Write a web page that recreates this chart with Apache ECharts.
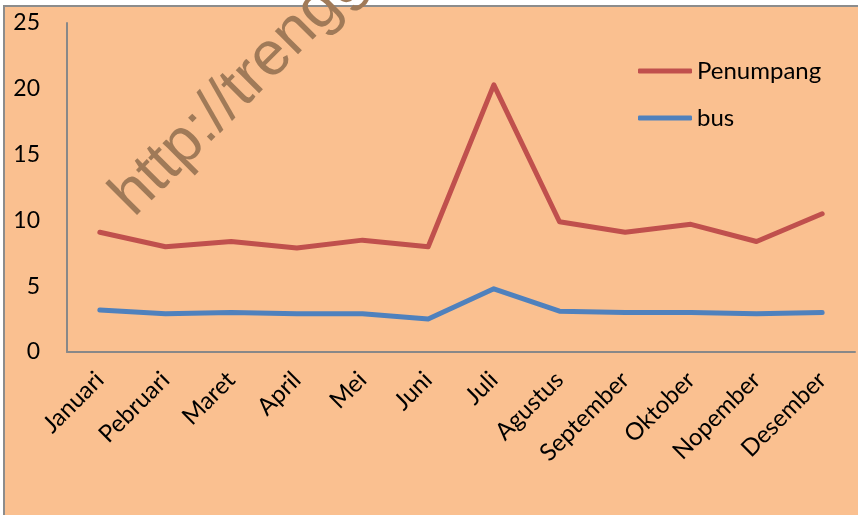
<!DOCTYPE html>
<html>
<head>
<meta charset="utf-8">
<script src="https://cdn.jsdelivr.net/npm/echarts@6/dist/echarts.min.js"></script>
<style>
  html, body { margin: 0; padding: 0; background: #fff; }
  #chart { width: 858px; height: 515px; }
</style>
</head>
<body>
<div id="chart"></div>
<script>
// data
const months = ['Januari', 'Pebruari', 'Maret', 'April', 'Mei', 'Juni', 'Juli', 'Agustus', 'September', 'Oktober', 'Nopember', 'Desember'];
const penumpang = [9.1, 8.0, 8.4, 7.9, 8.5, 8.0, 20.3, 9.9, 9.1, 9.7, 8.4, 10.5];
const bus = [3.2, 2.9, 3.0, 2.9, 2.9, 2.5, 4.8, 3.1, 3.0, 3.0, 2.9, 3.0];
const yTicks = [0, 5, 10, 15, 20, 25];

const font = 'Lato, "Open Sans", sans-serif';
const chart = echarts.init(document.getElementById('chart'));

const option = {
  backgroundColor: '#ffffff',
  animation: false,
  graphic: [
    {
      type: 'rect',
      z: -10,
      shape: { x: 4, y: 6, width: 900, height: 600 },
      style: { fill: '#FAC090', stroke: '#8c8c8c', lineWidth: 2 },
      silent: true,
    },
    {
      // watermark
      type: 'text',
      z: 100,
      x: 122,
      y: 206,
      rotation: Math.PI / 4,
      style: {
        text: 'http://trengginas',
        x: 0,
        y: 0,
        fill: '#A07A58',
        font: '400 62px "Liberation Sans", Arial, sans-serif',
        align: 'left',
        verticalAlign: 'middle',
      },
      silent: true,
    },
  ],
  grid: {
    left: 67,
    right: 3,
    top: 23,
    bottom: 163,
    containLabel: false,
  },
  legend: {
    orient: 'vertical',
    left: 638,
    top: 59,
    padding: 0,
    icon: 'roundRect',
    itemWidth: 54,
    itemHeight: 5,
    itemGap: 23,
    textStyle: { fontFamily: font, fontSize: 24, lineHeight: 24, color: '#000' },
    data: ['Penumpang', 'bus'],
  },
  xAxis: {
    type: 'category',
    data: months,
    boundaryGap: true,
    axisLine: { lineStyle: { color: '#888888', width: 2 } },
    axisTick: { show: false },
    axisLabel: {
      rotate: 45,
      interval: 0,
      margin: 24,
      color: '#000',
      fontFamily: font,
      fontSize: 24,
    },
  },
  yAxis: {
    type: 'value',
    min: yTicks[0],
    max: yTicks[yTicks.length - 1],
    interval: 5,
    axisLine: { show: true, lineStyle: { color: '#888888', width: 2 } },
    axisTick: { show: false },
    splitLine: { show: false },
    axisLabel: {
      margin: 27,
      color: '#000',
      fontFamily: font,
      fontSize: 23,
    },
  },
  series: [
    {
      name: 'Penumpang',
      type: 'line',
      data: penumpang,
      symbol: 'none',
      lineStyle: { color: '#C0504D', width: 5, cap: 'round', join: 'round' },
      itemStyle: { color: '#C0504D' },
    },
    {
      name: 'bus',
      type: 'line',
      data: bus,
      symbol: 'none',
      lineStyle: { color: '#4F81BD', width: 5, cap: 'round', join: 'round' },
      itemStyle: { color: '#4F81BD' },
    },
  ],
};

chart.setOption(option);
</script>
</body>
</html>
